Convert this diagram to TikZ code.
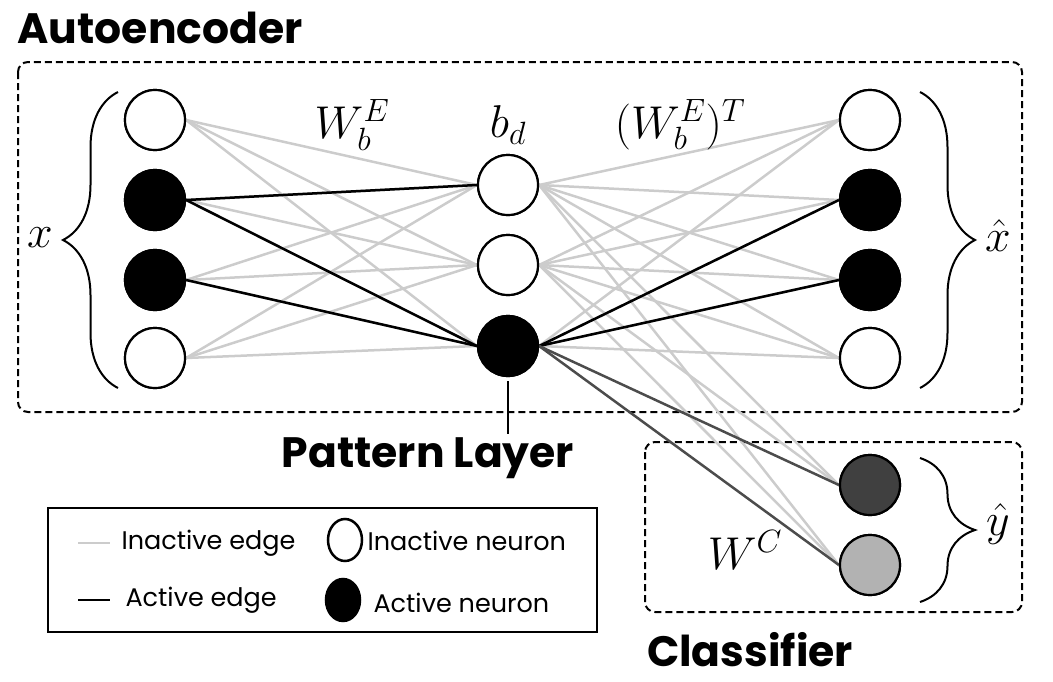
\RequirePackage{fix-cm}
\documentclass[tikz,border=0pt]{standalone}
\usepackage{fontspec}
\setmainfont{Poppins}
\usepackage{tikz}
\usetikzlibrary{shapes.geometric, decorations.pathreplacing, positioning, calc}

\begin{document}
\begin{tikzpicture}[x=1pt, y=-1pt,
			offnode/.style={draw, circle, line width=2.2pt, fill=white, minimum size=60pt, inner sep=0pt},
			onnode/.style={offnode, fill=black},
			offedge/.style={line width=2.5pt, draw=black!20},
			onedge/.style={line width=2.5pt, draw=black},
			clsedge/.style={line width=2.5pt, draw=black!70},
			groupbox/.style={draw, line width=2pt, dash pattern=on 7pt off 4pt, rounded corners=10pt},
			curly/.style={decorate, decoration={brace, amplitude=55pt}, line width=2pt},
			heading/.style={font=\fontsize{42.5}{50}\selectfont\bfseries},
			mathlabel/.style={font=\fontsize{46}{52}\selectfont},
			legendtext/.style={font=\fontsize{25.5}{30}\selectfont, anchor=west}
			]
			\useasboundingbox (0,0) rectangle (1053,681);
			
			% Boxes
			\draw[groupbox] (18,62) rectangle (1022,412);
			\draw[groupbox] (645,442) rectangle (1022,612);
			\node[heading, anchor=base west] (ae) at (14,43) {Autoencoder};
			\node[heading] (cl) at (750,650) {Classifier};
			
			% Input layer
			\node[offnode] (x1) at (155,120) {};
			\node[onnode] (x2) at (155,200) {};
			\node[onnode] (x3) at (155,280) {};
			\node[offnode] (x4) at (155,358) {};
			
			% Pattern layer
			\node[offnode] (h1) at (508,185) {};
			\node[offnode] (h2) at (508,265) {};
			\node[onnode] (h3) at (508,346) {};
			
			% Output layer
			\node[offnode] (r1) at (870,120) {};
			\node[onnode] (r2) at (870,200) {};
			\node[onnode] (r3) at (870,280) {};
			\node[offnode] (r4) at (870,358) {};
			
			% Classifier
			\node[offnode, fill=black!75] (y1) at (870,485) {};
			\node[offnode, fill=black!30] (y2) at (870,565) {};
			
			% Edges
			\foreach \i in {1,2,3,4} {
				\foreach \j in {1,2,3} {
					\draw[offedge] (x\i.east) -- (h\j.west);
					\draw[offedge] (h\j.east) -- (r\i.west);
				}
			}
			\foreach \j in {1,2} {
				\draw[offedge] (h1.east) -- (y\j.west);
				\draw[offedge] (h2.east) -- (y\j.west);
			}
			\draw[onedge] (x2.east) -- (h1.west);
			\draw[onedge] (x2.east) -- (h3.west);
			\draw[onedge] (x3.east) -- (h3.west);
			\draw[onedge] (h3.east) -- (r2.west);
			\draw[onedge] (h3.east) -- (r3.west);
			\draw[clsedge] (h3.east) -- (y1.west);
			\draw[clsedge] (h3.east) -- (y2.west);
			
			% Redraw nodes over the edges
			\foreach \n in {x1,x4,h1,h2,r1,r4} {\node[offnode] at (\n) {};}
			\foreach \n in {x2,x3,h3,r2,r3} {\node[onnode] at (\n) {};}
			\node[offnode, fill=black!75] at (y1) {};
			\node[offnode, fill=black!30] at (y2) {};
			
			% Braces
			\draw[curly] (118,388) -- (118,92);
			\draw[curly] (920,92) -- (920,388);
			\draw[curly] (920,458) -- (920,602);
			\node[mathlabel] (xl) at (40,238) {$x$};
			\node[mathlabel] (xh) at (998,236) {$\hat{x}$};
			\node[mathlabel] (yh) at (998,524) {$\hat{y}$};
			
			% Weight labels
			\node[mathlabel] (we) at (352,125) {$W_b^E$};
			\node[mathlabel] (bd) at (508,125) {$b_d$};
			\node[mathlabel] (wt) at (680,125) {$(W_b^E)^T$};
			\node[mathlabel] (wc) at (745,550) {$W^C$};
			
			% Pattern layer tag
			\coordinate (tag) at (508,434);
			\draw[line width=2.2pt] ($(h3.south)+(0,4)$) -- (tag);
			\node[heading] (pl) at (428,458) {Pattern Layer};
			
			% Legend
			\draw[line width=2pt] (48,508) rectangle (597,632);
			\draw[offedge] (78,543) -- (110,543);
			\draw[onedge] (78,600) -- (110,600);
			\node[draw, ellipse, line width=2.5pt, minimum width=34pt, minimum height=42pt, inner sep=0pt] (li) at (345,540) {};
			\node[draw, ellipse, fill=black, line width=2.5pt, minimum width=34pt, minimum height=42pt, inner sep=0pt] (la) at (343,600) {};
			\node[legendtext] (lt1) at (118,543) {Inactive edge};
			\node[legendtext] (lt2) at (364,541) {Inactive neuron};
			\node[legendtext] (lt3) at (122,600) {Active edge};
			\node[legendtext] (lt4) at (370,603) {Active neuron};
		\end{tikzpicture}
\end{document}
